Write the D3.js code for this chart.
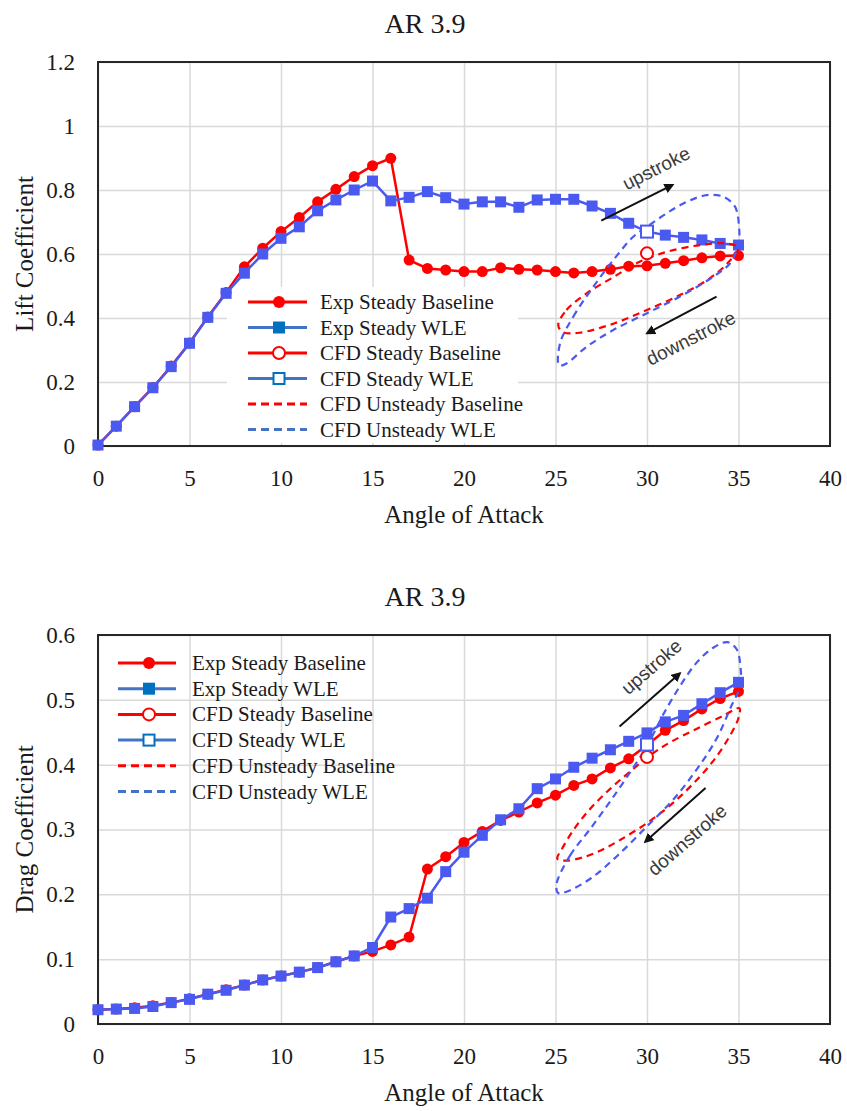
<!DOCTYPE html>
<html>
<head>
<meta charset="utf-8">
<script src="https://cdn.jsdelivr.net/npm/d3@7.9.0/dist/d3.min.js"></script>
<style>
  body { margin: 0; background: #fff; }
</style>
</head>
<body>
<svg id="chart" width="847" height="1111" font-family="Liberation Serif"></svg>
<script>
// angle of attack, degrees
const alpha = [0, 1, 2, 3, 4, 5, 6, 7, 8, 9, 10, 11, 12, 13, 14, 15, 16, 17,
  18, 19, 20, 21, 22, 23, 24, 25, 26, 27, 28, 29, 30, 31, 32, 33, 34, 35];

const xTicks = [0, 5, 10, 15, 20, 25, 30, 35, 40];
const liftTicks = [0, 0.2, 0.4, 0.6, 0.8, 1, 1.2];
const dragTicks = [0, 0.1, 0.2, 0.3, 0.4, 0.5, 0.6];

const seriesNames = ["Exp Steady Baseline", "Exp Steady WLE", "CFD Steady Baseline",
  "CFD Steady WLE", "CFD Unsteady Baseline", "CFD Unsteady WLE"];

// lift, experiment
const liftExpBase = [0.003, 0.062, 0.123, 0.183, 0.25, 0.322, 0.403, 0.48, 0.56, 0.618,
  0.67, 0.714, 0.763, 0.802, 0.842, 0.876, 0.899, 0.581, 0.555, 0.55,
  0.545, 0.545, 0.557, 0.552, 0.55, 0.545, 0.541, 0.545, 0.552, 0.562,
  0.563, 0.571, 0.579, 0.588, 0.594, 0.595];
const liftExpWLE = [0.003, 0.062, 0.123, 0.182, 0.248, 0.321, 0.402, 0.477, 0.54, 0.60,
  0.649, 0.685, 0.735, 0.769, 0.80, 0.828, 0.766, 0.777, 0.795, 0.776,
  0.756, 0.763, 0.763, 0.746, 0.769, 0.771, 0.771, 0.75, 0.727, 0.696,
  0.67, 0.659, 0.652, 0.644, 0.633, 0.628];
// lift, CFD steady at 30 deg
const liftCfdBase = [[30, 0.602]];
const liftCfdWLE = [[30, 0.67]];
// lift, CFD unsteady loops [alpha, CL]
const liftLoopBase = [[25.15, 0.378], [25.6, 0.425], [26.7, 0.477], [28.2, 0.529], [29.6, 0.576],
  [31.1, 0.607], [32.9, 0.628], [34.35, 0.633], [35.0, 0.62], [34.4, 0.571], [33.3, 0.519],
  [31.8, 0.472], [30.0, 0.425], [28.2, 0.383], [26.3, 0.354], [25.4, 0.356]];
const liftLoopWLE = [[25.25, 0.321], [25.97, 0.404], [27.07, 0.498], [28.16, 0.581], [29.25, 0.654],
  [30.0, 0.685], [31.07, 0.727], [32.17, 0.763], [33.26, 0.784], [34.17, 0.779], [34.81, 0.748],
  [35.03, 0.685], [35.0, 0.633], [34.54, 0.571], [33.62, 0.529], [31.8, 0.467], [30.0, 0.415],
  [28.16, 0.3625], [26.7, 0.31], [25.6, 0.258], [25.2, 0.252]];

// drag, experiment
const dragExpBase = [0.022, 0.023, 0.025, 0.028, 0.033, 0.039, 0.046, 0.053, 0.060, 0.068,
  0.074, 0.080, 0.087, 0.096, 0.105, 0.112, 0.122, 0.134, 0.239, 0.258,
  0.280, 0.297, 0.314, 0.327, 0.341, 0.353, 0.368, 0.378, 0.395, 0.409,
  0.43, 0.453, 0.468, 0.486, 0.502, 0.513];
const dragExpWLE = [0.022, 0.023, 0.024, 0.027, 0.033, 0.038, 0.046, 0.052, 0.060, 0.068,
  0.074, 0.080, 0.087, 0.096, 0.105, 0.118, 0.165, 0.178, 0.194, 0.235,
  0.265, 0.291, 0.315, 0.332, 0.363, 0.378, 0.396, 0.410, 0.423, 0.436,
  0.449, 0.466, 0.476, 0.494, 0.511, 0.527];
const dragCfdBase = [[30, 0.412]];
const dragCfdWLE = [[30, 0.431]];
const dragLoopBase = [[25.1, 0.255], [25.35, 0.27], [26.0, 0.30], [26.9, 0.332], [28.0, 0.363],
  [29.1, 0.39], [30.2, 0.415], [31.3, 0.435], [32.7, 0.455], [34.2, 0.476], [35.05, 0.487],
  [35.0, 0.472], [34.5, 0.443], [33.6, 0.405], [32.5, 0.37], [31.3, 0.338], [30.0, 0.31],
  [28.6, 0.285], [27.5, 0.268], [26.5, 0.257], [25.6, 0.252]];
const dragLoopWLE = [[25.05, 0.215], [25.8, 0.26], [26.9, 0.301], [28.2, 0.352], [29.45, 0.404],
  [30.1, 0.434], [30.9, 0.478], [31.8, 0.521], [32.7, 0.557], [33.6, 0.58], [34.4, 0.589],
  [34.9, 0.578], [35.1, 0.553], [35.1, 0.522], [34.6, 0.49], [33.8, 0.44], [32.7, 0.392],
  [31.4, 0.345], [30.0, 0.305], [28.4, 0.26], [26.9, 0.224], [25.6, 0.204], [25.15, 0.202]];

// annotation arrows [from, to] and labels, in data units
const liftArrows = { up: [[27.5, 0.704], [31.4, 0.816]], down: [[33.8, 0.467], [30.0, 0.352]],
  upText: [30.5, 0.868], downText: [32.4, 0.337], angle: -27 };
const dragArrows = { up: [[28.5, 0.459], [31.8, 0.541]], down: [[33.2, 0.364], [29.9, 0.281]],
  upText: [30.25, 0.551], downText: [32.2, 0.284], angle: -41 };

const RED = "#ff0000";
const BLUE = "#4a5af0";
const LEG_BLUE = "#4472c4";
const LEG_SQ = "#0070c0";
const SERIF = "Liberation Serif";
const SANS = "Liberation Sans";
const INK = "#1a1a1a";

const svg = d3.select("#chart");

svg.append("defs").append("marker")
  .attr("id", "arrow")
  .attr("viewBox", "0 0 10 10")
  .attr("refX", 8).attr("refY", 5)
  .attr("markerWidth", 5).attr("markerHeight", 5)
  .attr("orient", "auto")
  .append("path").attr("d", "M0,0 L10,5 L0,10 Z").attr("fill", "#111");

function serifText(sel, size) {
  return sel.attr("font-family", SERIF).attr("font-size", size).attr("fill", INK);
}

function drawPanel(cfg) {
  const x = d3.scaleLinear().domain([0, 40]).range([98, 830]);
  const y = d3.scaleLinear().domain([0, cfg.yMax]).range([cfg.bottom, cfg.top]);
  const g = svg.append("g");
  const h = cfg.bottom - cfg.top;

  // grid
  g.append("g")
    .attr("transform", `translate(0,${cfg.bottom})`)
    .call(d3.axisBottom(x).tickValues(xTicks).tickSize(-h).tickFormat(""))
    .call(s => s.select(".domain").remove())
    .selectAll("line").attr("stroke", "#d9d9d9").attr("stroke-width", 1.5);
  g.append("g")
    .attr("transform", "translate(98,0)")
    .call(d3.axisLeft(y).tickValues(cfg.yTicks).tickSize(-732).tickFormat(""))
    .call(s => s.select(".domain").remove())
    .selectAll("line").attr("stroke", "#d9d9d9").attr("stroke-width", 1.5);

  // legend background (top chart hides the grid)
  if (cfg.legendBox) {
    g.append("rect")
      .attr("x", cfg.legendBox[0]).attr("y", cfg.legendBox[1])
      .attr("width", cfg.legendBox[2]).attr("height", cfg.legendBox[3])
      .attr("fill", "#fff");
  }

  // frame
  g.append("rect")
    .attr("x", 98).attr("y", cfg.top).attr("width", 732).attr("height", h)
    .attr("fill", "none").attr("stroke", "#262626").attr("stroke-width", 2);

  // tick labels
  const xAx = g.append("g")
    .attr("transform", `translate(0,${cfg.bottom})`)
    .call(d3.axisBottom(x).tickValues(xTicks).tickSize(0).tickPadding(24));
  xAx.select(".domain").remove();
  serifText(xAx.attr("font-family", SERIF).selectAll("text"), 23);

  const yAx = g.append("g")
    .attr("transform", "translate(98,0)")
    .call(d3.axisLeft(y).tickValues(cfg.yTicks).tickSize(0).tickPadding(23)
      .tickFormat(d => String(+d.toFixed(1))));
  yAx.select(".domain").remove();
  serifText(yAx.attr("font-family", SERIF).selectAll("text"), 23);

  // titles
  serifText(svg.append("text"), 28).attr("x", 425).attr("y", cfg.top - 29)
    .attr("text-anchor", "middle").text("AR 3.9");
  serifText(svg.append("text"), 25).attr("x", 464).attr("y", cfg.bottom + 77)
    .attr("text-anchor", "middle").text("Angle of Attack");
  serifText(svg.append("text"), 25)
    .attr("transform", `translate(33,${(cfg.top + cfg.bottom) / 2}) rotate(-90)`)
    .attr("text-anchor", "middle").text(cfg.yLabel);

  const line = d3.line().x(d => x(d[0])).y(d => y(d[1]));
  const loop = d3.line().x(d => x(d[0])).y(d => y(d[1])).curve(d3.curveCatmullRomClosed.alpha(0.5));
  const pairs = vals => alpha.map((a, i) => [a, vals[i]]);

  // experimental series
  const base = pairs(cfg.expBase);
  const wle = pairs(cfg.expWLE);
  g.append("path").attr("d", line(base)).attr("fill", "none")
    .attr("stroke", RED).attr("stroke-width", 2.5);
  g.append("g").selectAll("circle").data(base).join("circle")
    .attr("cx", d => x(d[0])).attr("cy", d => y(d[1])).attr("r", 5.5).attr("fill", RED);
  g.append("path").attr("d", line(wle)).attr("fill", "none")
    .attr("stroke", BLUE).attr("stroke-width", 2.5);
  g.append("g").selectAll("rect").data(wle).join("rect")
    .attr("x", d => x(d[0]) - 5.5).attr("y", d => y(d[1]) - 5.5)
    .attr("width", 11).attr("height", 11).attr("fill", BLUE);

  // unsteady loops
  g.append("path").attr("d", loop(cfg.loopBase)).attr("fill", "none")
    .attr("stroke", RED).attr("stroke-width", 2.2).attr("stroke-dasharray", "7,5");
  g.append("path").attr("d", loop(cfg.loopWLE)).attr("fill", "none")
    .attr("stroke", BLUE).attr("stroke-width", 2.2).attr("stroke-dasharray", "7,5");

  // CFD steady
  g.append("g").selectAll("circle").data(cfg.cfdBase).join("circle")
    .attr("cx", d => x(d[0])).attr("cy", d => y(d[1])).attr("r", 6)
    .attr("fill", "#fff").attr("stroke", RED).attr("stroke-width", 2);
  g.append("g").selectAll("rect").data(cfg.cfdWLE).join("rect")
    .attr("x", d => x(d[0]) - 6).attr("y", d => y(d[1]) - 6)
    .attr("width", 12).attr("height", 12)
    .attr("fill", "#fff").attr("stroke", BLUE).attr("stroke-width", 2);

  // arrows + notes
  const ar = cfg.arrows;
  [ar.up, ar.down].forEach(seg => {
    g.append("line")
      .attr("x1", x(seg[0][0])).attr("y1", y(seg[0][1]))
      .attr("x2", x(seg[1][0])).attr("y2", y(seg[1][1]))
      .attr("stroke", "#111").attr("stroke-width", 2).attr("marker-end", "url(#arrow)");
  });
  [["upstroke", ar.upText], ["downstroke", ar.downText]].forEach(([t, p]) => {
    g.append("text")
      .attr("font-family", SANS).attr("fill", "#3a3a3a")
      .attr("transform", `translate(${x(p[0])},${y(p[1])}) rotate(${ar.angle})`)
      .attr("text-anchor", "middle").attr("dominant-baseline", "central")
      .attr("font-size", 19).text(t);
  });

  // legend
  const L = cfg.legend;
  const leg = g.append("g");
  seriesNames.forEach((name, i) => {
    const yy = L.y + i * L.step;
    const isRed = i % 2 === 0;
    const col = isRed ? RED : LEG_BLUE;
    leg.append("line").attr("x1", L.x1).attr("x2", L.x2).attr("y1", yy).attr("y2", yy)
      .attr("stroke", col).attr("stroke-width", 3)
      .attr("stroke-dasharray", i >= 4 ? "8,5" : null);
    if (i === 0) {
      leg.append("circle").attr("cx", L.mx).attr("cy", yy).attr("r", 6).attr("fill", RED);
    } else if (i === 1) {
      leg.append("rect").attr("x", L.mx - 6).attr("y", yy - 6).attr("width", 12).attr("height", 12)
        .attr("fill", LEG_SQ);
    } else if (i === 2) {
      leg.append("circle").attr("cx", L.mx).attr("cy", yy).attr("r", 6)
        .attr("fill", "#fff").attr("stroke", RED).attr("stroke-width", 2);
    } else if (i === 3) {
      leg.append("rect").attr("x", L.mx - 5.5).attr("y", yy - 5.5).attr("width", 11).attr("height", 11)
        .attr("fill", "#fff").attr("stroke", LEG_SQ).attr("stroke-width", 2);
    }
    serifText(leg.append("text"), 21).attr("x", L.tx).attr("y", yy)
      .attr("dominant-baseline", "central").text(name);
  });
}

drawPanel({
  top: 62, bottom: 446, yMax: 1.2, yTicks: liftTicks, yLabel: "Lift Coefficient",
  expBase: liftExpBase, expWLE: liftExpWLE, cfdBase: liftCfdBase, cfdWLE: liftCfdWLE,
  loopBase: liftLoopBase, loopWLE: liftLoopWLE, arrows: liftArrows,
  legendBox: [227, 287, 291, 156],
  legend: { x1: 248, x2: 307, mx: 279, tx: 320, y: 302, step: 25.5 }
});

drawPanel({
  top: 635, bottom: 1024, yMax: 0.6, yTicks: dragTicks, yLabel: "Drag Coefficient",
  expBase: dragExpBase, expWLE: dragExpWLE, cfdBase: dragCfdBase, cfdWLE: dragCfdWLE,
  loopBase: dragLoopBase, loopWLE: dragLoopWLE, arrows: dragArrows,
  legendBox: null,
  legend: { x1: 118, x2: 176, mx: 149, tx: 192, y: 663, step: 25.7 }
});
</script>
</body>
</html>
